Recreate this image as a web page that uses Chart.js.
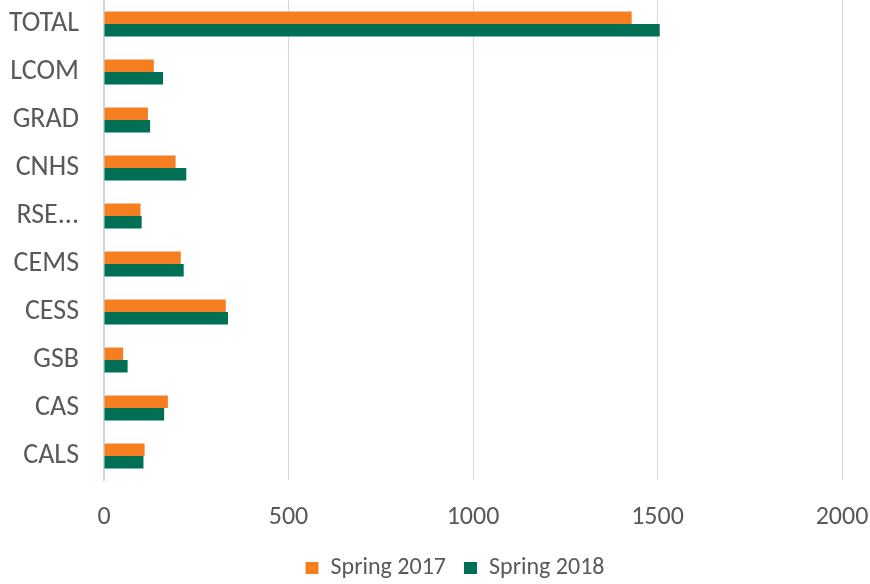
<!DOCTYPE html>
<html>
<head>
<meta charset="utf-8">
<script src="https://cdn.jsdelivr.net/npm/chart.js@4"></script>
<style>
    html, body { margin: 0; padding: 0; background: #fff; }
    #wrap { width: 870px; height: 584px; }
</style>
</head>
<body>
<div id="wrap"><canvas id="chart" width="870" height="584"></canvas></div>
<script>
const colleges = ['TOTAL', 'LCOM', 'GRAD', 'CNHS', 'RSE...', 'CEMS', 'CESS', 'GSB', 'CAS', 'CALS'];
const spring2017 = [1430, 135, 119, 194, 99, 208, 330, 52, 173, 110];
const spring2018 = [1506, 160, 125, 223, 102, 216, 336, 64, 163, 107];
const xTicks = [0, 500, 1000, 1500, 2000];

const palette = {
    orange: '#F47E20',
    green: '#006F54',
    text: '#595959',
    grid: '#D9D9D9',
};

const font = 'Calibri, Carlito, "Liberation Sans", Arial, sans-serif';

// nudge the legend a little right, the way the source chart sits
const legendShift = {
    id: 'legendShift',
    afterLayout(chart) {
        chart.legend.left += 34;
        chart.legend.right += 34;
    },
};

new Chart(document.getElementById('chart'), {
    type: 'bar',
    data: {
        labels: colleges,
        datasets: [
            {
                label: 'Spring 2017',
                data: spring2017,
                backgroundColor: palette.orange,
                categoryPercentage: 0.52,
                barPercentage: 1,
            },
            {
                label: 'Spring 2018',
                data: spring2018,
                backgroundColor: palette.green,
                categoryPercentage: 0.52,
                barPercentage: 1,
            },
        ],
    },
    plugins: [legendShift],
    options: {
        indexAxis: 'y',
        responsive: false,
        animation: false,
        layout: { padding: { left: 0, right: 28, top: 0, bottom: -6 } },
        plugins: {
            legend: {
                position: 'bottom',
                labels: {
                    color: palette.text,
                    font: { family: font, size: 24 },
                    boxWidth: 13,
                    boxHeight: 12,
                    padding: 18,
                },
            },
            tooltip: { enabled: false },
        },
        scales: {
            x: {
                min: 0,
                max: 2000,
                afterBuildTicks: (scale) => {
                    scale.ticks = xTicks.map((v) => ({ value: v }));
                },
                afterFit: (scale) => {
                    scale.height = 58;
                    scale.paddingLeft = 0;
                    scale.paddingRight = 0;
                },
                ticks: {
                    color: palette.text,
                    font: { family: font, size: 26 },
                    padding: 22,
                    callback: (v) => String(v),
                },
                grid: { color: palette.grid, lineWidth: 1, drawTicks: false },
                border: { display: false },
            },
            y: {
                afterFit: (scale) => {
                    scale.width = 104;
                    scale.paddingTop = 0;
                    scale.paddingBottom = 0;
                },
                ticks: {
                    color: palette.text,
                    font: { family: font, size: 28 },
                    padding: 17,
                },
                grid: { display: false },
                border: { color: palette.grid, width: 2 },
            },
        },
    },
});
</script>
</body>
</html>
